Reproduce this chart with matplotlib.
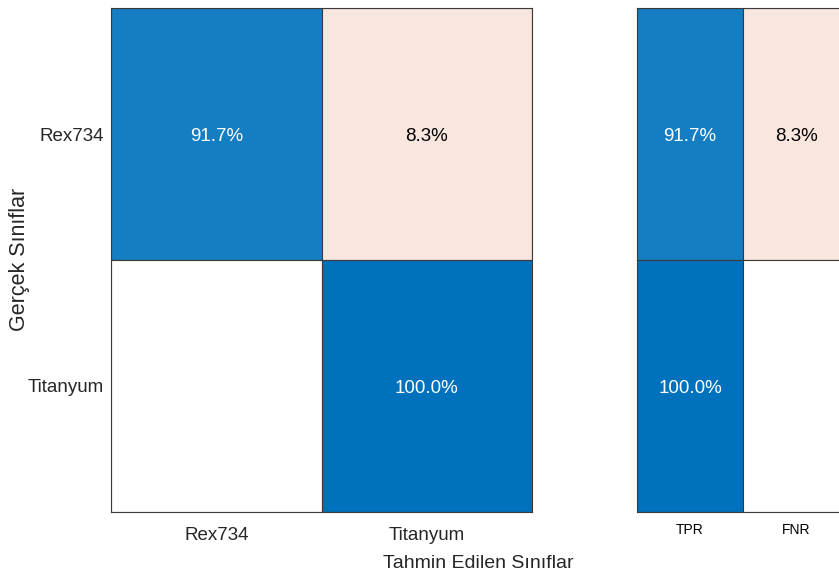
import numpy as np
import matplotlib
matplotlib.use("Agg")
import matplotlib.pyplot as plt
from matplotlib.patches import Rectangle

classes = ["Rex734", "Titanyum"]
conf_pct = np.array([[91.7, 8.3],
                     [0.0, 100.0]])  # row normalised, percent
summary_cols = ["TPR", "FNR"]
summary_pct = np.array([[91.7, 8.3],
                        [100.0, 0.0]])

DIAG = np.array([0.0, 0.447, 0.741])
OFFD = np.array([0.85, 0.325, 0.098])
OFF_SCALE = 1.75
EDGE = "#3a3a3a"
LABEL = "#262626"
FONT = ["Liberation Sans", "DejaVu Sans"]


def cell_color(v, diag):
    if v <= 0:
        return np.array([1.0, 1.0, 1.0])
    if diag:
        a = v / 100.0
        return 1 - a * (1 - DIAG)
    a = min(v / 100.0 * OFF_SCALE, 1.0)
    return 1 - a * (1 - OFFD)


def draw_cells(ax, vals, is_diag):
    nr, nc = vals.shape
    for i in range(nr):
        for j in range(nc):
            v = vals[i, j]
            c = cell_color(v, is_diag(i, j))
            ax.add_patch(Rectangle((j, i), 1, 1, facecolor=c, edgecolor=EDGE, lw=0.8))
            if v > 0:
                tc = "white" if is_diag(i, j) else "black"
                ax.text(j + 0.5, i + 0.51, f"{v:.1f}%", ha="center", va="center",
                        color=tc, fontsize=13.5, family=FONT)
    ax.set_xlim(0, nc)
    ax.set_ylim(nr, 0)
    for s in ax.spines.values():
        s.set_color(EDGE)
        s.set_linewidth(0.8)


fig = plt.figure(figsize=(8.39, 5.77), dpi=100)

ax = fig.add_axes([111 / 839, 65 / 577, 421 / 839, 504 / 577])
draw_cells(ax, conf_pct, lambda i, j: i == j)
ax.set_xticks(np.arange(len(classes)) + 0.5)
ax.set_xticklabels(classes, family=FONT, fontsize=13.5)
ax.set_yticks(np.arange(len(classes)) + 0.5)
ax.set_yticklabels(classes, family=FONT, fontsize=13.5)
ax.tick_params(length=0, pad=5, labelcolor=LABEL)
ax.tick_params(axis="x", pad=11)

ax2 = fig.add_axes([637 / 839, 65 / 577, 212 / 839, 504 / 577])
draw_cells(ax2, summary_pct, lambda i, j: j == 0)
ax2.set_xticks(np.arange(len(summary_cols)) + 0.5)
ax2.set_xticklabels(summary_cols, family=FONT, fontsize=10)
ax2.set_yticks([])
ax2.tick_params(length=0, pad=8, labelcolor="black")

fig.text(20 / 839, 1 - 259 / 577, "Gerçek Sınıflar", ha="center", va="center",
         rotation=90, family=FONT, fontsize=15.5, color=LABEL)
fig.text(478 / 839, 1 - 563 / 577, "Tahmin Edilen Sınıflar", ha="center", va="center",
         family=FONT, fontsize=14, color=LABEL)

fig.savefig("out.png", dpi=100)
